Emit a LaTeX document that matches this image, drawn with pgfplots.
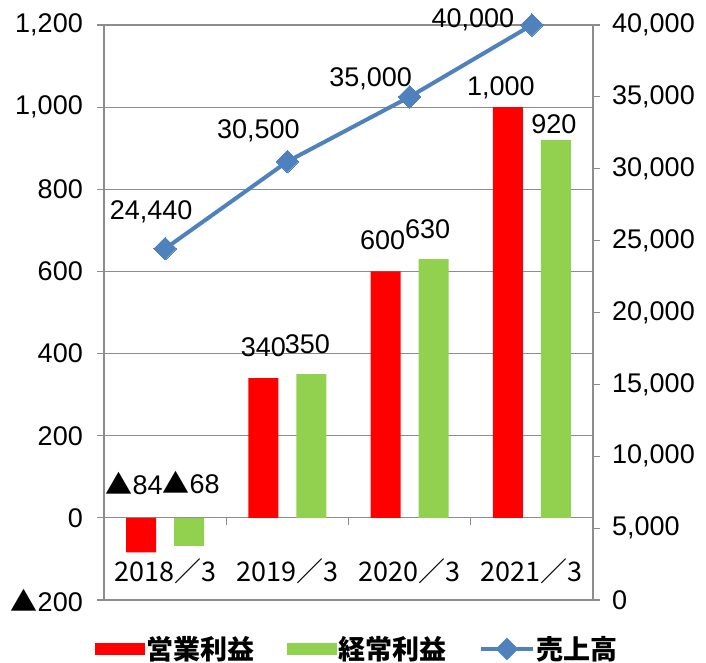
\documentclass[border=0pt]{standalone}
\usepackage{pgfplots}
\pgfplotsset{compat=1.18}
\usepackage{pgfplotstable}
\usepackage{fontspec}
\setmainfont{Liberation Sans}
\newfontfamily\jp{Noto Sans CJK JP}
\usetikzlibrary{calc}
\definecolor{cred}{HTML}{FF0000}
\definecolor{cgreen}{HTML}{92D050}
\definecolor{cblue}{HTML}{4F81BD}
\definecolor{cgrid}{HTML}{8C8C8C}
\newcommand{\bigsz}{\fontsize{27}{32}\selectfont}
\newcommand{\tri}{{\jp ▲}}

\pgfplotstableread{
x y lbl dx dy
0 -84 \tri84 -7 69
1 340 340 0 31
2 600 600 -3 31
3 1000 1,000 -7 19
}\opdata
\pgfplotstableread{
x y lbl dx dy
0 -68 \tri68 2 63
1 350 350 -4 30
2 630 630 -6 30
3 920 920 -2 16
}\ordata
\pgfplotstableread{
x y lbl dx dy
0 24440 24,440 -14 37
1 30500 30,500 -29 31
2 35000 35,000 -39 18
3 40000 40,000 -59 5
}\salesdata

\pgfplotsset{
  every axis/.append style={
    scale only axis, width=489pt, height=575pt,
    xmin=-0.5, xmax=3.5,
    tick label style={font=\bigsz, inner sep=0pt},
    /pgf/number format/assume math mode=true,
    tick align=outside,
    major tick length=7pt,
    axis line style={cgrid, line width=1.2pt},
    every outer x axis line/.append style={-},
    every outer y axis line/.append style={-},
    every inner x axis line/.append style={-},
    every inner y axis line/.append style={-},
    tick style={cgrid, line width=1.2pt},
  },
  lbls/.style={
    nodes near coords={\pgfplotspointmeta},
    point meta=explicit symbolic,
    visualization depends on={\thisrow{dx}\as\mydx},
    visualization depends on={\thisrow{dy}\as\mydy},
    nodes near coords style={anchor=center, inner sep=0pt, xshift=\mydx pt, yshift=\mydy pt, font=\bigsz, text=black},
  },
}

\begin{document}
\begin{tikzpicture}
\begin{axis}[
  name=main, at={(0,0)}, anchor=south west,
  ymin=-200, ymax=1200,
  ytick={-200,0,...,1200},
  yticklabels={\tri200,0,200,400,600,800,{1,000},{1,200}},
  yticklabel style={xshift=-14pt},
  axis y line*=left,
  axis x line*=middle,
  ymajorgrids,
  major grid style={cgrid, line width=1.2pt},
  xtick={0.5,1.5,2.5}, xticklabels={},
  extra x ticks={0,1,2,3},
  extra x tick labels={2018／3,2019／3,2020／3,2021／3},
  extra x tick style={major tick length=0pt, tick label style={font=\jp\bigsz, yshift=-41pt}},
  ybar=18pt, bar width=30pt,
  legend style={at={(0.518,-0.0852)}, anchor=center, draw=none, fill=none,
    legend columns=3, font=\jp\bfseries\bigsz, inner sep=0pt,
    /tikz/every even column/.append style={column sep=30pt},
    nodes={inner sep=2pt}},
  legend cell align=left,
]
\addplot[fill=cred, draw=none, lbls,
  legend image code/.code={\fill[cred] (0pt,-6pt) rectangle (50pt,6pt);}]
  table[x=x, y=y, meta=lbl]{\opdata};
\addlegendentry{営業利益}
\addplot[fill=cgreen, draw=none, lbls,
  legend image code/.code={\fill[cgreen] (0pt,-6pt) rectangle (50pt,6pt);}]
  table[x=x, y=y, meta=lbl]{\ordata};
\addlegendentry{経常利益}
\addlegendimage{legend image code/.code={
  \draw[cblue, line width=4pt] (0pt,0pt) -- (52pt,0pt);
  \fill[cblue] (26pt,-11pt) -- (37pt,0pt) -- (26pt,11pt) -- (15pt,0pt) -- cycle;}}
\addlegendentry{売上高}
\end{axis}
\begin{axis}[
  at={(0,0)}, anchor=south west,
  ymin=0, ymax=40000,
  ytick={0,5000,...,40000},
  scaled y ticks=false,
  yticklabel style={/pgf/number format/fixed, /pgf/number format/1000 sep={,}, xshift=12pt},
  axis y line*=right,
  axis x line=none,
]
\addplot[cblue, line width=4pt, mark=square*, mark size=8pt,
  mark options={rotate=45, solid, line width=0pt}, lbls]
  table[x=x, y=y, meta=lbl]{\salesdata};
\end{axis}
\pgfresetboundingbox
\path ($(main.south west)+(-104pt,-63pt)$) rectangle ($(main.north east)+(113pt,25pt)$);
\end{tikzpicture}
\end{document}
